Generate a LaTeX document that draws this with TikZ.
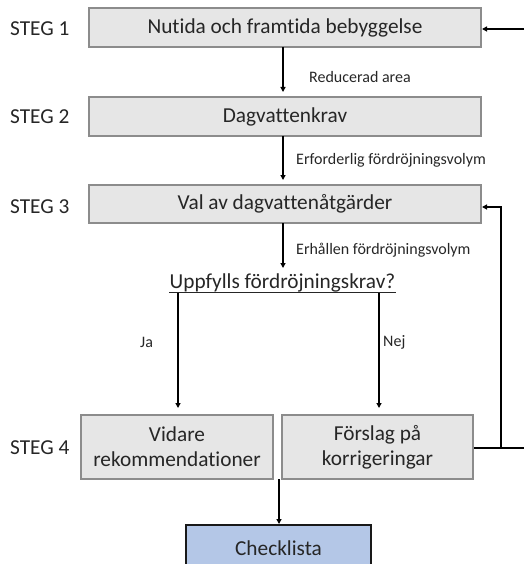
\documentclass[tikz,border=0pt]{standalone}
\usepackage{fontspec}
\setmainfont{Carlito}[Ligatures=NoCommon]
\usetikzlibrary{arrows.meta}
\definecolor{boxfill}{HTML}{E6E6E6}
\definecolor{boxdraw}{HTML}{8C8C8C}
\definecolor{chkfill}{HTML}{B4C7E7}
\definecolor{txt}{HTML}{262626}
\begin{document}
\begin{tikzpicture}[x=1pt,y=-1pt,
  bigfont/.style={font=\fontsize{21.3}{25}\selectfont},
  graybox/.style={draw=boxdraw,fill=boxfill,line width=2pt,inner sep=0pt,text=txt,bigfont,align=center},
  steglbl/.style={anchor=west,text=txt,bigfont,inner sep=0pt},
  smalllbl/.style={anchor=west,text=txt,font=\fontsize{16}{18}\selectfont,inner sep=0pt},
  conn/.style={line width=1.2pt,-{Triangle[length=5pt,width=5pt]}},
  plain/.style={line width=1.2pt}]
\useasboundingbox (0,0) rectangle (524,564);
\clip (0,0) rectangle (524,564);
% boxes
\node[graybox,minimum width=392pt,minimum height=39pt] (b1) at (285,27.5) {Nutida och framtida bebyggelse};
\node[graybox,minimum width=392pt,minimum height=39pt] (b2) at (285,116.5) {Dagvattenkrav};
\node[graybox,minimum width=392pt,minimum height=38pt] (b3) at (285,204) {Val av dagvattenåtgärder};
\node[text=txt,bigfont,inner sep=0pt,anchor=base] (q) at (282.5,288.5) {Uppfylls fördröjningskrav?};
\node[graybox,minimum width=192pt,minimum height=64pt] (b4a) at (177,447) {Vidare\\rekommendationer};
\node[graybox,minimum width=191pt,minimum height=64pt] (b4b) at (377.5,447) {Förslag på\\korrigeringar};
\node[draw=black!90,fill=chkfill,line width=2.5pt,minimum width=185pt,minimum height=46pt,inner sep=0pt,text=txt,bigfont] (chk) at (278.5,548) {Checklista};
% underline of the question
\draw[line width=1pt,txt] ([yshift=-4pt]q.base west) -- ([yshift=-4pt]q.base east);
% STEG labels
\node[steglbl] (s1) at (10,29) {STEG 1};
\node[steglbl] (s2) at (10,117) {STEG 2};
\node[steglbl] (s3) at (10,207) {STEG 3};
\node[steglbl] (s4) at (10,448) {STEG 4};
% coordinates
\coordinate (a1s) at (283,47);
\coordinate (a1e) at (283,92);
\coordinate (a2s) at (283,136);
\coordinate (a2e) at (283,180);
\coordinate (a3s) at (283,223);
\coordinate (a3e) at (283,268);
\coordinate (jas) at (178,293);
\coordinate (jae) at (178,408);
\coordinate (nejs) at (379,293);
\coordinate (neje) at (379,408);
\coordinate (cks) at (279,479);
\coordinate (cke) at (279,524);
\coordinate (fbR) at (524,448);
\coordinate (fbJ) at (501,448);
\coordinate (fbT) at (501,207);
\coordinate (fb3) at (482,207);
\coordinate (inR) at (524,29);
\coordinate (in1) at (482,29);
% connectors
\draw[conn] (a1s) -- (a1e);
\draw[conn] (a2s) -- (a2e);
\draw[conn] (a3s) -- (a3e);
\draw[conn] (jas) -- (jae);
\draw[conn] (nejs) -- (neje);
\draw[conn] (cks) -- (cke);
\draw[plain] (b4b.east |- fbR) -- (fbR);
\draw[conn] (fbJ) -- (fbT) -- (fb3);
\draw[conn] (inR) -- (in1);
% labels
\node[smalllbl] (l1) at (309,77) {Reducerad area};
\node[smalllbl] (l2) at (296,160) {Erforderlig fördröjningsvolym};
\node[smalllbl] (l3) at (296,250) {Erhållen fördröjningsvolym};
\node[smalllbl] (lja) at (140,342) {Ja};
\node[smalllbl] (lnej) at (383,342) {Nej};
\end{tikzpicture}
\end{document}
